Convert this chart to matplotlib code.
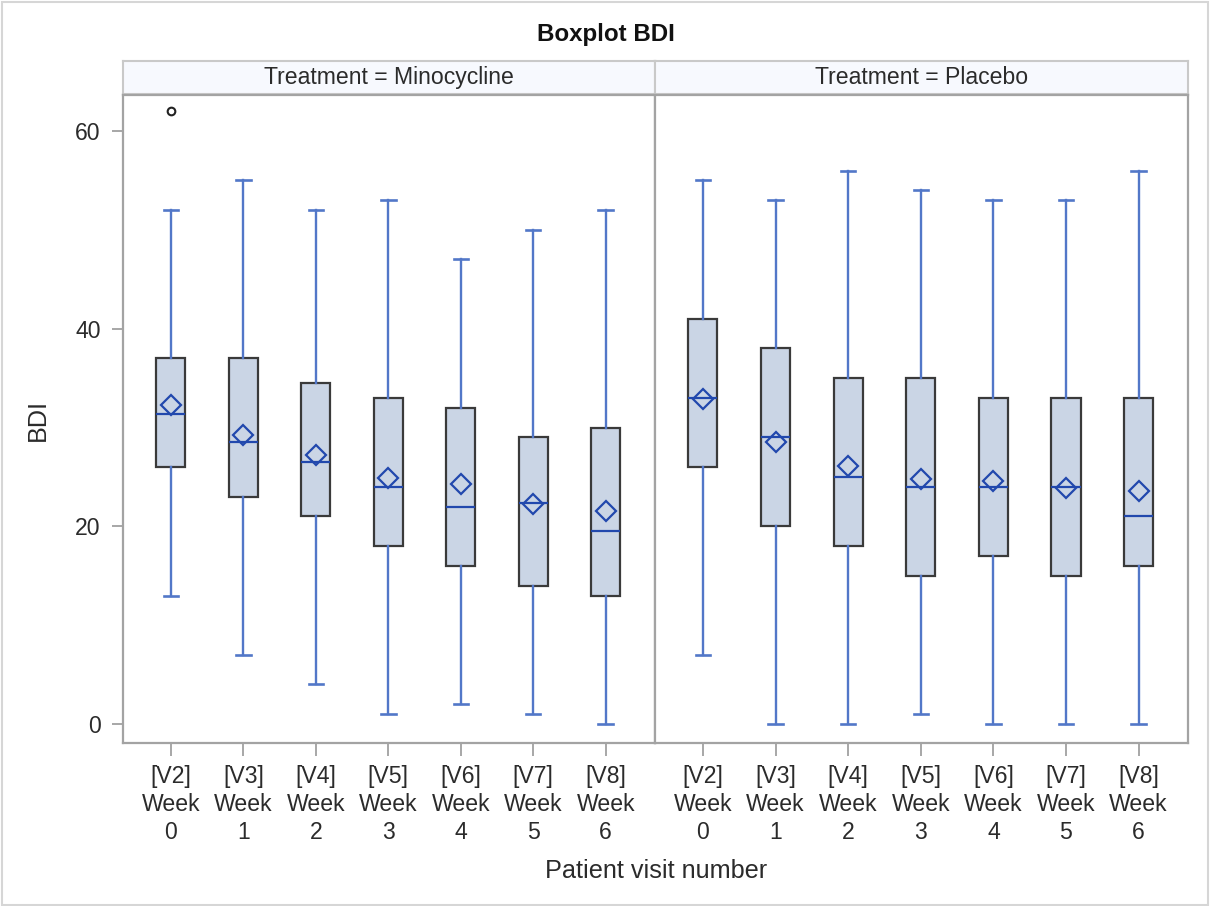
import matplotlib
matplotlib.use('Agg')
import matplotlib.pyplot as plt
from matplotlib.patches import Rectangle

plt.rcParams['font.family'] = ['Liberation Sans', 'DejaVu Sans']

# ---------------- data ----------------
visit_labels = ['[V2]\nWeek\n0', '[V3]\nWeek\n1', '[V4]\nWeek\n2', '[V5]\nWeek\n3',
                '[V6]\nWeek\n4', '[V7]\nWeek\n5', '[V8]\nWeek\n6']
panel_titles = ['Treatment = Minocycline', 'Treatment = Placebo']

mino_whislo = [13, 7, 4, 1, 2, 1, 0]
mino_q1 = [26, 23, 21, 18, 16, 14, 13]
mino_med = [31.4, 28.5, 26.5, 24, 22, 22.4, 19.5]
mino_q3 = [37, 37, 34.5, 33, 32, 29, 30]
mino_whishi = [52, 55, 52, 53, 47, 50, 52]
mino_mean = [32.3, 29.2, 27.2, 24.9, 24.3, 22.3, 21.6]
mino_fliers = [[62], [], [], [], [], [], []]

plac_whislo = [7, 0, 0, 1, 0, 0, 0]
plac_q1 = [26, 20, 18, 15, 17, 15, 16]
plac_med = [33, 29, 25, 24, 24, 24, 21]
plac_q3 = [41, 38, 35, 35, 33, 33, 33]
plac_whishi = [55, 53, 56, 54, 53, 53, 56]
plac_mean = [32.9, 28.5, 26.1, 24.8, 24.55, 23.9, 23.6]
plac_fliers = [[], [], [], [], [], [], []]

y_ticks = [0, 20, 40, 60]

# ---------------- styles ----------------
W, H = 1210, 906
box_fill = '#CAD5E5'
box_edge = '#3A3A3A'
whisk_col = '#5277C8'
med_col = '#2148AD'
frame_col = '#A3A3A3'
tick_col = '#A0A0A0'
text_col = '#2B2B2B'
fs = 16.6

fig = plt.figure(figsize=(W / 100, H / 100), dpi=100)
fig.patch.set_facecolor('white')

def fx(px):
    return px / W

def fy(py):
    return 1 - py / H

# outer border
fig.add_artist(Rectangle((fx(2), fy(905)), fx(1206), (903) / H, transform=fig.transFigure,
                         fill=False, edgecolor='#D6D6D6', lw=1.5))

panel_x = [(123, 655), (655, 1188)]
plot_top, plot_bot = 95, 743
head_top, head_bot = 61, 94

datasets = [
    (mino_whislo, mino_q1, mino_med, mino_q3, mino_whishi, mino_mean, mino_fliers),
    (plac_whislo, plac_q1, plac_med, plac_q3, plac_whishi, plac_mean, plac_fliers),
]

for i, ((x0, x1), title, data) in enumerate(zip(panel_x, panel_titles, datasets)):
    # header strip
    hax = fig.add_axes([fx(x0), fy(head_bot), fx(x1 - x0), (head_bot - head_top) / H])
    hax.set_facecolor('#F7F9FE')
    hax.set_xticks([]); hax.set_yticks([])
    for s in hax.spines.values():
        s.set_color('#C9C9C9'); s.set_linewidth(1.5)
    hax.text(0.5, 0.5, title, ha='center', va='center', fontsize=fs, color=text_col,
             transform=hax.transAxes)

    ax = fig.add_axes([fx(x0), fy(plot_bot), fx(x1 - x0), (plot_bot - plot_top) / H])
    wlo, q1, med, q3, whi, mean, fl = data
    stats = []
    for k in range(len(visit_labels)):
        stats.append(dict(whislo=wlo[k], q1=q1[k], med=med[k], q3=q3[k], whishi=whi[k],
                          mean=mean[k], fliers=fl[k]))
    ax.bxp(stats, positions=range(len(visit_labels)), widths=0.40, capwidths=0.2,
           patch_artist=True, showmeans=True, zorder=3,
           boxprops=dict(facecolor=box_fill, edgecolor=box_edge, linewidth=1.6),
           whiskerprops=dict(color=whisk_col, linewidth=1.7),
           capprops=dict(color=whisk_col, linewidth=1.9),
           medianprops=dict(color=med_col, linewidth=1.6),
           meanprops=dict(marker='D', markersize=10, markerfacecolor='none',
                          markeredgecolor=med_col, markeredgewidth=1.6),
           flierprops=dict(marker='o', markersize=5.5, markerfacecolor='none',
                           markeredgecolor='#222222', markeredgewidth=1.5))
    ax.set_xlim(-0.66, 6.68)
    ax.set_ylim(-1.92, 63.64)
    ax.set_xticks(range(len(visit_labels)))
    ax.set_xticklabels(visit_labels, fontsize=fs, color=text_col, linespacing=1.27)
    ax.tick_params(axis='x', length=9, width=1.3, color=tick_col, pad=7)
    if i == 0:
        ax.set_yticks(y_ticks)
        ax.set_yticklabels([str(v) for v in y_ticks], fontsize=fs, color=text_col)
        ax.tick_params(axis='y', length=8, width=1.3, color=tick_col, pad=8)
    else:
        ax.set_yticks([])
    for s in ax.spines.values():
        s.set_color(frame_col); s.set_linewidth(1.6)

fig.text(fx(606), fy(34), 'Boxplot BDI', ha='center', va='center', fontsize=17.4,
         fontweight='bold', color='#111111')
fig.text(fx(656), fy(871), 'Patient visit number', ha='center', va='center', fontsize=18.2,
         color=text_col)
fig.text(fx(38), fy(420), 'BDI', ha='center', va='center', fontsize=18.2, rotation=90,
         color=text_col)

fig.savefig('out.png', dpi=100, facecolor='white')
